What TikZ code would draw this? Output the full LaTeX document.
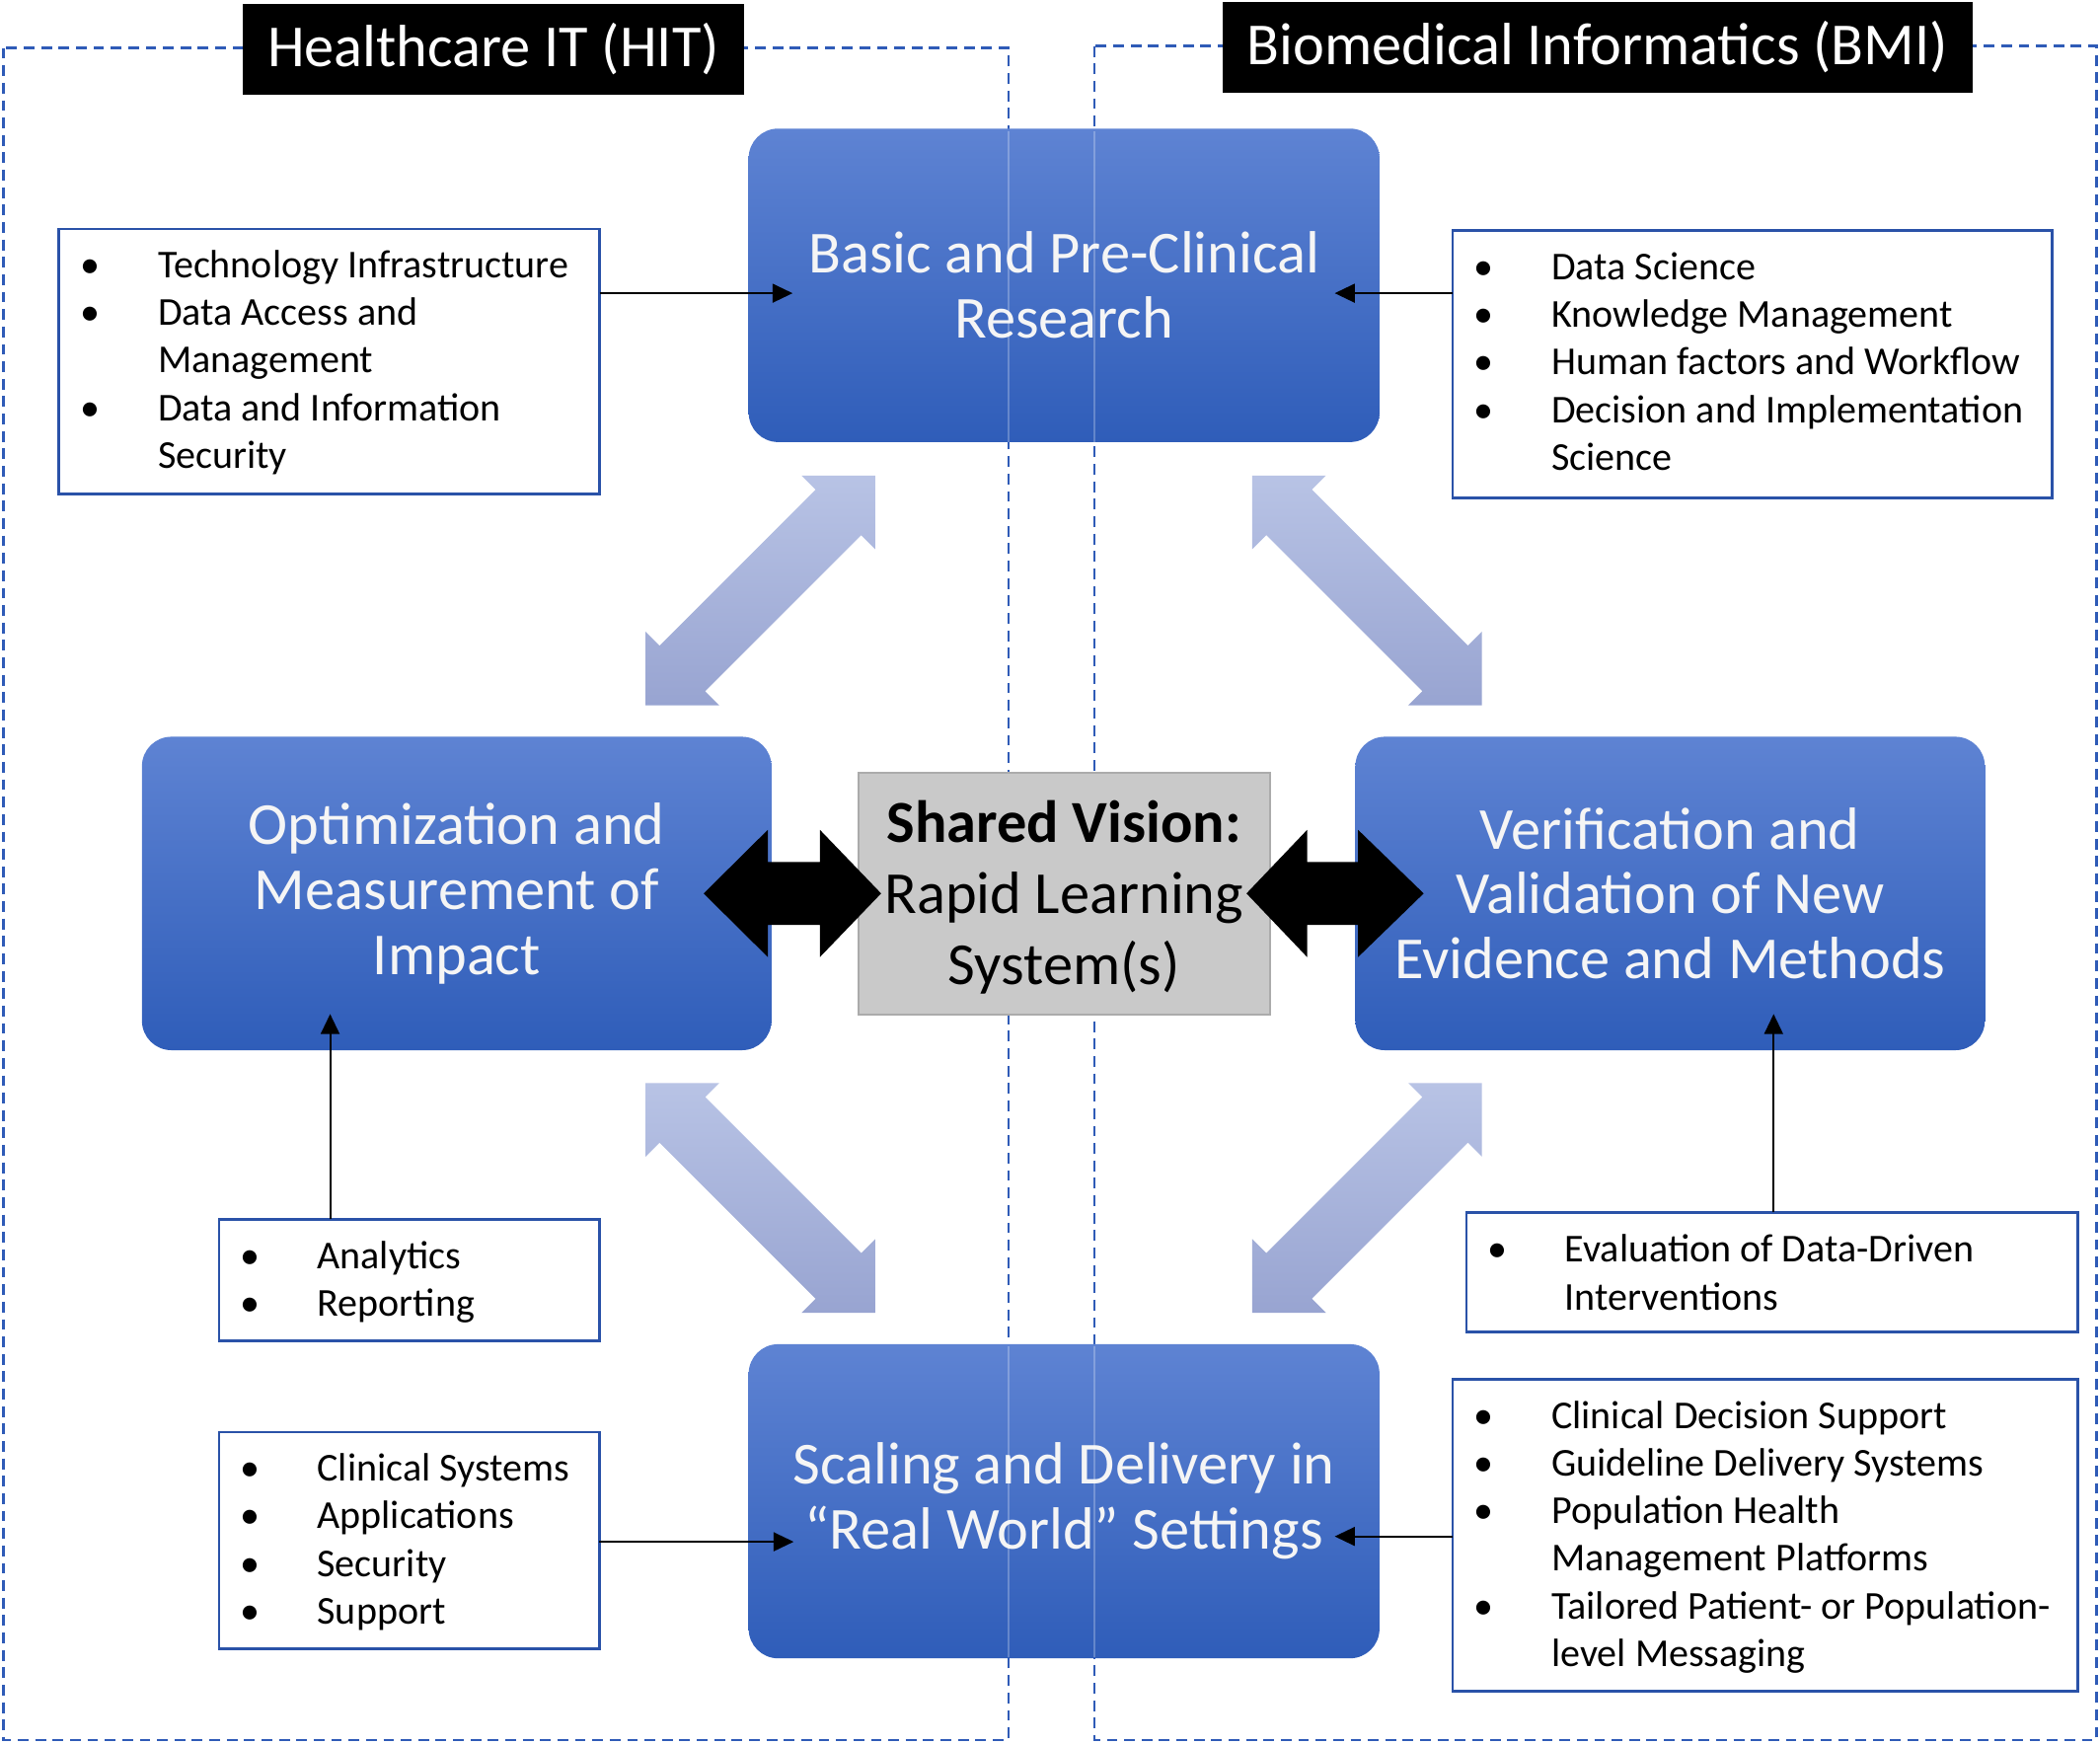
\documentclass[tikz,border=0pt]{standalone}
\usepackage{fontspec}
\setmainfont{Carlito}
\usetikzlibrary{arrows.meta}
\definecolor{boxtop}{HTML}{5E83D3}
\definecolor{boxbot}{HTML}{2F5DB9}
\definecolor{arrtop}{HTML}{B8C3E5}
\definecolor{arrbot}{HTML}{98A4D1}
\definecolor{dashblue}{HTML}{2F5BB7}
\definecolor{listblue}{HTML}{2A52A8}
\definecolor{greyfill}{HTML}{C9C9C9}
\definecolor{greyline}{HTML}{ABABAB}
\newcommand{\bl}{\makebox[0pt]{•}\hspace*{50.5pt}}
\newcommand{\ct}{\hspace*{50.5pt}}
\newcommand{\lst}[1]{\parbox[t]{480pt}{\fontsize{29.5}{35.6}\selectfont #1}}
\newcommand{\dblarr}[6]{%
 \shade[top color=arrtop, bottom color=arrbot]
 (#1,#2) -- (#1,{#2+(#6)*55}) -- ({#1+(#5)*10.5},{#2+(#6)*44.5})
 -- ({#3-(#5)*44.5},{#4-(#6)*10.5}) -- ({#3-(#5)*55},#4) -- (#3,#4)
 -- (#3,{#4-(#6)*55}) -- ({#3-(#5)*10.5},{#4-(#6)*44.5})
 -- ({#1+(#5)*44.5},{#2+(#6)*10.5}) -- ({#1+(#5)*55},#2) -- cycle;}
\tikzset{
 bluebox/.style={rounded corners=22pt, top color=boxtop, bottom color=boxbot,
   text=white!96!black, align=center, font=\fontsize{44.5}{48.5}\selectfont,
   inner sep=0pt, outer sep=0pt},
 listbox/.style={draw=listblue, line width=2pt, fill=white, inner sep=0pt, outer sep=0pt},
 listtxt/.style={inner sep=0pt, outer sep=0pt, anchor=base west, text=black},
 label/.style={fill=black, text=white, inner sep=0pt, outer sep=0pt,
   font=\fontsize{44.5}{49}\selectfont},
 region/.style={draw=dashblue, line width=1.8pt, dash pattern=on 8pt off 5pt},
 conn/.style={line width=1.5pt, -{Triangle[length=15pt,width=14pt]}},
}
\begin{document}
\begin{tikzpicture}[x=1pt,y=-1pt]
\useasboundingbox[fill=white] (0,0) rectangle (1568,1302);

% dashed regions
\draw[region] (2.5,35.8) rectangle (752.9,1299);
\draw[region] (817,34.4) rectangle (1565.5,1299);

% blue boxes
\node[bluebox, minimum width=471pt, minimum height=234pt] (basic) at (794.5,213) {Basic and Pre-Clinical\\Research};
\node[bluebox, minimum width=470pt, minimum height=234pt] (opt) at (341,667) {Optimization and\\Measurement of\\Impact};
\node[bluebox, minimum width=470pt, minimum height=234pt] (ver) at (1247,667) {Verification and\\Validation of New\\Evidence and Methods};
\node[bluebox, minimum width=471pt, minimum height=234.5pt] (scal) at (794.5,1120.75) {Scaling and Delivery in\\“Real World” Settings};

% faint region lines across the blue boxes
\foreach \xx in {752.9,817}{
  \draw[white, opacity=0.25, line width=1.2pt] (\xx,98) -- (\xx,330);
  \draw[white, opacity=0.25, line width=1.2pt] (\xx,1005) -- (\xx,1237);
}

% light double arrows
\dblarr{653.5}{355}{482}{526.5}{-1}{1}
\dblarr{935}{355}{1106.5}{526.5}{1}{1}
\dblarr{482}{808.5}{653.5}{980}{1}{1}
\dblarr{1106.5}{808.5}{935}{980}{-1}{1}

% shared vision
\node[fill=greyfill, draw=greyline, line width=1.5pt, minimum width=307pt, minimum height=180.7pt,
  inner sep=0pt, outer sep=0pt] (vision) at (794.5,667.3) {};
\node[align=center, inner sep=0pt, font=\fontsize{44.5}{53}\selectfont] (visiont) at (794.5,670)
  {\textbf{Shared Vision:}\\Rapid Learning\\System(s)};

% black double arrows
\fill[black] (525.4,667) -- (573.3,619.5) -- (573.3,643.5) -- (612.2,643.5) -- (612.2,619.5)
  -- (657.9,667) -- (612.2,714.5) -- (612.2,690.5) -- (573.3,690.5) -- (573.3,714.5) -- cycle;
\fill[black] (930.7,667) -- (976,619.5) -- (976,643.5) -- (1014,643.5) -- (1014,619.5)
  -- (1063,667) -- (1014,714.5) -- (1014,690.5) -- (976,690.5) -- (976,714.5) -- cycle;

% list boxes
\node[listbox, minimum width=403.7pt, minimum height=198pt] (hit1) at (245.85,270) {};
\node[listtxt] (hit1t) at (67.5,207.3) {\lst{\bl Technology Infrastructure\\ \bl Data Access and\\ \ct Management\\ \bl Data and Information\\ \ct Security}};

\node[listbox, minimum width=447.3pt, minimum height=199.7pt] (bmi1) at (1308.35,271.85) {};
\node[listtxt] (bmi1t) at (1108,208.7) {\lst{\bl Data Science\\ \bl Knowledge Management\\ \bl Human factors and Workflow\\ \bl Decision and Implementation\\ \ct Science}};

\node[listbox, minimum width=284pt, minimum height=91pt] (ana) at (305.5,955.7) {};
\node[listtxt] (anat) at (186.5,947.3) {\lst{\bl Analytics\\ \bl Reporting}};

\node[listbox, minimum width=284pt, minimum height=161.8pt] (cs) at (305.5,1150.1) {};
\node[listtxt] (cst) at (186.5,1105.7) {\lst{\bl Clinical Systems\\ \bl Applications\\ \bl Security\\ \bl Support}};

\node[listbox, minimum width=456.6pt, minimum height=89.4pt] (eva) at (1323.3,949.8) {};
\node[listtxt] (evat) at (1118,942.2) {\lst{\bl Evaluation of Data-Driven\\ \ct Interventions}};

\node[listbox, minimum width=466.9pt, minimum height=232.5pt] (cds) at (1318.15,1146.05) {};
\node[listtxt] (cdst) at (1108,1066.2) {\lst{\bl Clinical Decision Support\\ \bl Guideline Delivery Systems\\ \bl Population Health\\ \ct Management Platforms\\ \bl Tailored Patient- or Population-\\ \ct level Messaging}};

% connectors
\coordinate (tipA) at (591.8,218.9);
\coordinate (tipB) at (996.6,218.9);
\coordinate (tipC) at (246.5,757);
\coordinate (tipD) at (1324.3,757);
\coordinate (tipE) at (592.6,1151);
\coordinate (tipF) at (996.6,1147);
\draw[conn] (hit1.east |- tipA) -- (tipA);
\draw[conn] (bmi1.west |- tipB) -- (tipB);
\draw[conn] (tipC |- ana.north) -- (tipC);
\draw[conn] (tipD |- eva.north) -- (tipD);
\draw[conn] (cs.east |- tipE) -- (tipE);
\draw[conn] (cds.west |- tipF) -- (tipF);

% region labels
\node[label, minimum width=373.7pt, minimum height=67.7pt] (hitlab) at (368.45,36.65) {Healthcare IT (HIT)};
\node[label, minimum width=560.3pt, minimum height=67.7pt] (bmilab) at (1192.75,35.25) {Biomedical Informatics (BMI)};
\end{tikzpicture}
\end{document}
